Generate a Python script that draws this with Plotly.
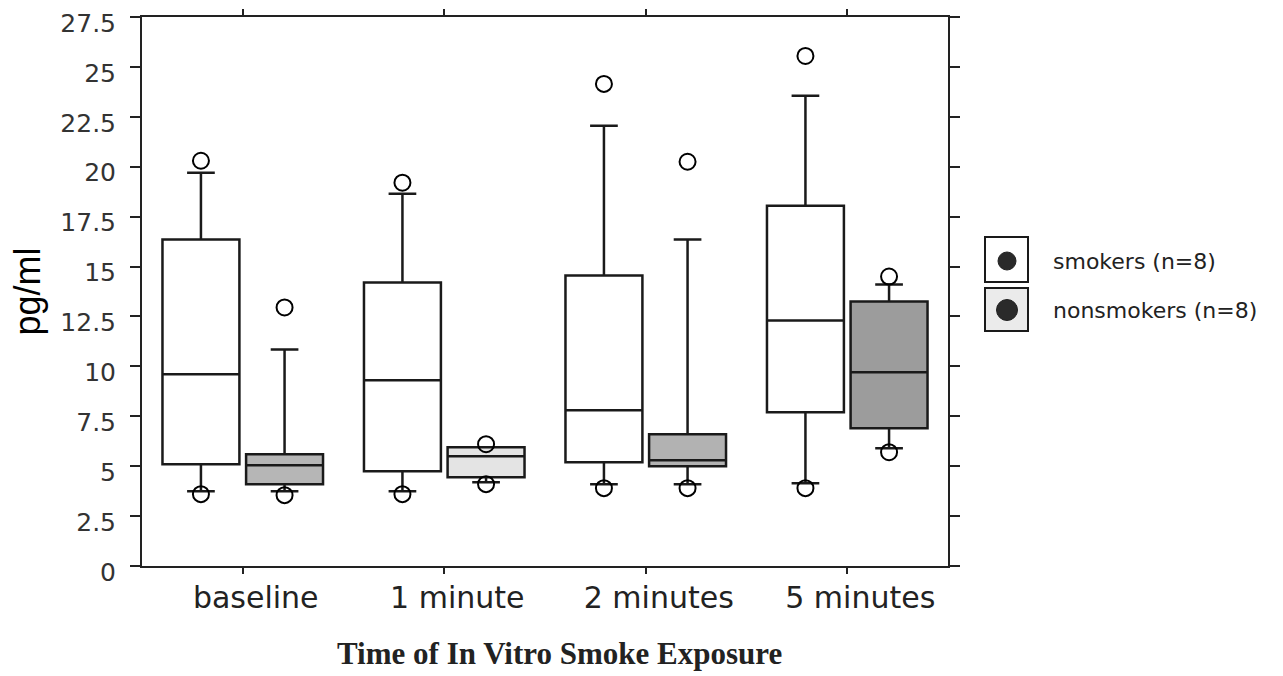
import plotly.graph_objects as go

categories = ["baseline", "1 minute", "2 minutes", "5 minutes"]

# smokers (n=8)
smk_q1 = [5.1, 4.75, 5.2, 7.7]
smk_median = [9.6, 9.3, 7.8, 12.3]
smk_q3 = [16.35, 14.2, 14.55, 18.05]
smk_lower = [3.75, 3.75, 4.1, 4.15]
smk_upper = [19.7, 18.65, 22.05, 23.55]
smk_outliers = [[20.3, 3.6], [19.2, 3.6], [24.15, 3.9], [25.55, 3.9]]

# nonsmokers (n=8)
non_q1 = [4.1, 4.45, 5.0, 6.9]
non_median = [5.05, 5.5, 5.3, 9.7]
non_q3 = [5.6, 5.95, 6.6, 13.25]
non_lower = [3.75, 4.2, 4.1, 5.9]
non_upper = [10.85, 5.95, 16.35, 14.1]
non_outliers = [[12.95, 3.55], [6.1, 4.1], [20.25, 3.9], [14.5, 5.7]]
non_fills = ["#b6b6b6", "#e4e4e4", "#b2b2b2", "#9c9c9c"]

y_ticks = [0, 2.5, 5, 7.5, 10, 12.5, 15, 17.5, 20, 22.5, 25, 27.5]

# page body has an 8px default margin: positions below are page pixels,
# converted into figure coordinates by subtracting OFF
OFF = 8
W, H = 1283, 676
ML, MT = 142 - OFF, 17 - OFF
MR = W - (948 - OFF)
MB = H - (566 - OFF)
PW, PH = W - ML - MR, H - MT - MB


def px(x):
    return (x - OFF - ML) / PW


def py(y):
    return (H - MB - (y - OFF)) / PH


outlier_marker = dict(symbol="circle-open", size=16, color="black",
                      line=dict(width=2, color="black"))

fig = go.Figure()
fig.add_trace(go.Box(
    name="smokers (n=8)", x=categories, y=smk_outliers,
    q1=smk_q1, median=smk_median, q3=smk_q3,
    lowerfence=smk_lower, upperfence=smk_upper,
    boxpoints="outliers", marker=outlier_marker,
    fillcolor="white", line=dict(color="#1a1a1a", width=2.5),
    whiskerwidth=0.36, offsetgroup="s", showlegend=False,
))
for i, cat in enumerate(categories):
    fig.add_trace(go.Box(
        name="nonsmokers (n=8)", x=[cat], y=[non_outliers[i]],
        q1=[non_q1[i]], median=[non_median[i]], q3=[non_q3[i]],
        lowerfence=[non_lower[i]], upperfence=[non_upper[i]],
        boxpoints="outliers", marker=outlier_marker,
        fillcolor=non_fills[i], line=dict(color="#1a1a1a", width=2.5),
        whiskerwidth=0.36, offsetgroup="n", showlegend=False,
    ))

# legend drawn as shapes + text
shapes = []
annotations = []
legend_items = [("smokers (n=8)", "white", 237, 282, 261, 18),
                ("nonsmokers (n=8)", "#ebebeb", 288, 331, 310, 21)]
for label, fill, top, bot, cy, d in legend_items:
    shapes.append(dict(type="rect", xref="paper", yref="paper",
                       x0=px(985), x1=px(1028), y0=py(bot), y1=py(top),
                       line=dict(color="#1a1a1a", width=2), fillcolor=fill))
    shapes.append(dict(type="circle", xref="paper", yref="paper",
                       x0=px(1007 - d / 2), x1=px(1007 + d / 2),
                       y0=py(cy + d / 2), y1=py(cy - d / 2),
                       line=dict(color="#222", width=1), fillcolor="#2a2a2a"))
    annotations.append(dict(text=label, xref="paper", yref="paper",
                            x=px(1051), y=py(cy), xanchor="left", yanchor="middle",
                            showarrow=False,
                            font=dict(family="DejaVu Sans", size=22, color="#222")))

annotations.append(dict(text="<b>Time of In Vitro Smoke Exposure</b>",
                        xref="paper", yref="paper", x=px(559), y=py(653),
                        xanchor="center", yanchor="middle",
                        showarrow=False,
                        font=dict(family="Liberation Serif", size=31, color="#222")))
annotations.append(dict(text="pg/ml", xref="paper", yref="paper",
                        x=px(27), y=0.5, xanchor="center", yanchor="middle",
                        textangle=-90, showarrow=False,
                        font=dict(family="Liberation Sans", size=36, color="black")))

fig.update_layout(
    width=W, height=H,
    margin=dict(l=ML, r=MR, t=MT, b=MB, autoexpand=False),
    paper_bgcolor="white", plot_bgcolor="white",
    boxmode="group", boxgap=0.17, boxgroupgap=0.08,
    showlegend=False,
    shapes=shapes, annotations=annotations,
    xaxis=dict(
        type="category", categoryorder="array", categoryarray=categories,
        range=[-0.5, 3.5], automargin=False, ticklabeloverflow="allow",
        showline=True, linecolor="#222", linewidth=2, mirror="ticks",
        ticks="outside", ticklen=6, tickwidth=1.5, tickcolor="#222",
        tickfont=dict(family="DejaVu Sans", size=30, color="#222"),
        ticklabelshift=13, ticklabelstandoff=-2,
        showgrid=False, zeroline=False,
    ),
    yaxis=dict(
        range=[0, 27.5], tickvals=y_ticks, automargin=False,
        ticklabeloverflow="allow",
        ticktext=[f"{v:g}" for v in y_ticks],
        showline=True, linecolor="#222", linewidth=2, mirror="ticks",
        ticks="outside", ticklen=10, tickwidth=2, tickcolor="#222",
        tickfont=dict(family="DejaVu Sans", size=25, color="#333"),
        ticklabelstandoff=9, ticklabelshift=6,
        showgrid=False, zeroline=False,
    ),
)

fig.write_html("out.html")
